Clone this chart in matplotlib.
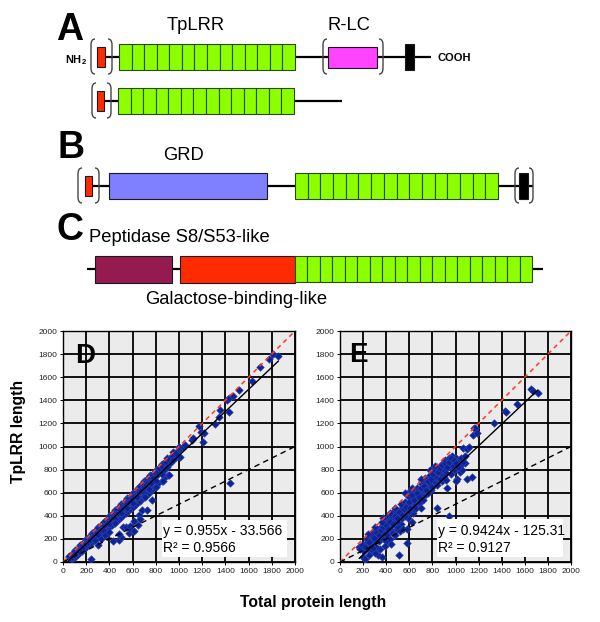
import matplotlib
matplotlib.use("Agg")
import matplotlib.pyplot as plt
from matplotlib.patches import Rectangle
from matplotlib.path import Path
from matplotlib.patches import PathPatch

plt.rcParams['font.family'] = ['Liberation Sans', 'DejaVu Sans']

# ---------------- data: domain diagrams (pixel layout of figure) ----------------
# each row: (name, y, line_start, line_end)
rows = [("A1", 57, 97, 431), ("A2", 101, 97, 342), ("B", 186, 85, 533), ("C", 269, 87, 543)]
# domains: (row, kind, x0, x1, n_cells)
domains = [
    ("A1", "sig", 97, 105, 1), ("A1", "lrr", 119, 295, 14), ("A1", "rlc", 328, 377, 1), ("A1", "tm", 405, 414, 1),
    ("A2", "sig", 97, 104, 1), ("A2", "lrr", 118, 294, 14),
    ("B", "sig", 85, 92, 1), ("B", "grd", 109, 267, 1), ("B", "lrr", 295, 498, 16), ("B", "tm", 519, 528, 1),
    ("C", "pep", 95, 172, 1), ("C", "gal", 180, 295, 1), ("C", "lrr", 295, 532, 19),
]
brackets = [("A1", 91, 112), ("A1", 323, 383), ("A2", 92, 111), ("B", 78, 99), ("B", 515, 533)]

# ---------------- data: scatter D ----------------
D_x = [50, 60, 70, 80, 90, 100, 110, 120, 130, 140, 150, 160, 170, 180, 190, 200, 210, 220, 230, 240,
       250, 260, 270, 280, 290, 300, 310, 320, 330, 340, 350, 360, 370, 380, 390, 400, 410, 420, 430, 440,
       450, 460, 470, 480, 490, 500, 510, 520, 530, 540, 550, 560, 570, 580, 590, 600, 610, 620, 630, 640,
       650, 660, 670, 680, 690, 700, 710, 720, 730, 740, 750, 760, 780, 800, 820, 840, 860, 880, 900, 930,
       960, 990,
       80, 100, 120, 140, 160, 180, 200, 220, 240, 260, 280, 300, 320, 340, 360, 380, 400, 420, 440, 460,
       480, 500, 520, 540, 560, 580, 600, 620, 640, 660, 680, 700, 720, 740, 760, 780, 800, 820, 850, 880,
       100, 150, 200, 250, 300, 350, 400, 450, 500, 550, 600, 650, 700, 750, 800, 850, 900, 950, 1000,
       130, 170, 210, 250, 290, 330, 370, 410, 450, 490, 530, 570, 610, 650, 690, 730, 770, 810, 870, 920, 970,
       55, 65, 75, 85, 95, 105, 115, 125, 135, 145, 155, 165, 175, 185, 195, 205, 215, 225, 235, 245,
       255, 265, 275, 285, 295, 305, 315, 325, 335, 345, 355, 365, 375, 385, 395, 405, 415, 425, 435, 445,
       455, 465, 475, 485, 495, 505, 515, 525, 535, 545, 555, 565, 575, 585, 595, 605, 615, 625, 635, 645,
       655, 665, 675, 685, 695, 705, 715, 725, 735, 745, 755, 765, 775, 790, 810, 830, 850, 870, 890, 910,
       940, 970, 1000,
       300, 350, 400, 450, 500, 550, 600, 650, 700, 750, 800, 850, 900, 640, 720, 760,
       244, 280, 300, 330, 360, 400, 431, 451, 486, 503, 485, 520, 546, 566, 575, 589, 609, 609, 644, 652,
       667, 681, 701, 704, 724, 744, 767, 802, 860, 905, 911, 950, 1011, 1437,
       1003, 1037, 1052, 1109, 1124, 1175, 1187, 1204, 1216, 1313, 1348, 1356, 1411, 1428, 1434, 1466, 1517,
       1629, 1698, 1778, 1813, 1856]
D_y = [45, 40, 55, 60, 70, 85, 90, 100, 115, 120, 135, 140, 150, 165, 170, 185, 190, 200, 215, 220,
       235, 240, 250, 265, 270, 285, 290, 300, 315, 320, 335, 340, 350, 365, 370, 385, 390, 400, 415, 420,
       435, 440, 450, 465, 470, 485, 490, 500, 515, 520, 535, 540, 550, 565, 570, 585, 590, 600, 615, 620,
       635, 640, 650, 665, 670, 685, 690, 700, 715, 720, 735, 740, 760, 780, 800, 820, 840, 850, 880, 900,
       930, 960,
       30, 45, 60, 80, 95, 110, 130, 145, 165, 180, 200, 215, 235, 250, 270, 285, 305, 320, 340, 355,
       375, 390, 410, 425, 445, 460, 480, 495, 515, 530, 550, 565, 585, 600, 620, 640, 655, 680, 700, 740,
       100, 150, 200, 250, 300, 345, 400, 450, 500, 550, 600, 645, 700, 750, 800, 850, 900, 950, 1000,
       100, 135, 170, 210, 250, 290, 325, 365, 400, 440, 480, 520, 555, 595, 635, 670, 710, 750, 800, 860, 910,
       50, 35, 45, 75, 60, 95, 80, 110, 95, 130, 115, 150, 130, 170, 155, 195, 175, 215, 190, 235,
       215, 255, 230, 275, 250, 295, 270, 315, 290, 335, 310, 355, 330, 375, 345, 395, 370, 415, 385, 435,
       410, 455, 425, 475, 450, 495, 465, 515, 490, 535, 505, 555, 530, 575, 545, 595, 570, 615, 585, 635,
       610, 655, 625, 675, 650, 695, 665, 715, 690, 735, 705, 755, 730, 775, 790, 815, 830, 855, 870, 895,
       920, 945, 980,
       230, 270, 330, 370, 420, 470, 510, 560, 600, 650, 700, 760, 820, 560, 640, 680,
       30, 190, 150, 200, 230, 260, 184, 335, 193, 219, 240, 300, 300, 248, 308, 277, 355, 265, 322, 407,
       371, 450, 573, 560, 452, 629, 538, 652, 700, 753, 754, 880, 906, 682,
       998, 993, 1013, 1056, 1071, 1177, 1128, 1042, 1114, 1192, 1253, 1316, 1403, 1417, 1302, 1440, 1489,
       1567, 1686, 1760, 1801, 1786]
D_fit = (0.955, -33.566)
D_eq = ["y = 0.955x - 33.566", "R\u00b2 = 0.9566"]

# ---------------- data: scatter E ----------------
E_x = [167, 170, 202, 219, 222, 230, 240, 250, 245, 210,
       265, 283, 303, 323, 332, 346, 341, 270, 290, 300, 310, 320, 330, 340, 280, 300, 350, 355, 260, 290,
       361, 370, 380, 390, 400, 410, 420, 430, 440, 450, 380, 400, 420, 440, 360, 390, 410, 430, 445, 370,
       460, 470, 480, 490, 500, 510, 520, 530, 540, 550, 460, 480, 500, 514, 520, 540, 530, 545, 470, 490,
       560, 570, 577, 580, 590, 600, 610, 620, 630, 640, 650, 560, 590, 600, 620, 630, 580, 600, 640, 615,
       660, 670, 680, 690, 700, 710, 720, 730, 740, 750, 660, 690, 710, 720, 740, 700, 680, 730, 745, 760,
       770, 780, 790, 800, 810, 820, 830, 837, 840, 850, 780, 800, 820, 840, 760,
       860, 870, 880, 890, 900, 910, 920, 929, 930, 944, 940, 950, 880, 900, 920, 870,
       960, 970, 980, 990, 1000, 1010, 1020, 1030, 1040, 1050, 1068, 1080, 1097, 1097, 1120, 1140, 960, 1000, 980, 1060,
       190, 215, 235, 255, 275, 295, 315, 335, 355, 375, 395, 415, 435, 455, 475, 495, 515, 535, 555, 575,
       595, 605, 625, 645, 665, 685, 705, 725, 745, 765, 785, 805, 825, 845, 865, 885, 905, 925, 945, 965,
       985, 1005, 1025, 1045, 1065, 1085, 560, 620, 700, 820, 430, 480, 360, 300, 240,
       1154, 1160, 1169, 1189, 1333, 1429, 1437, 1530, 1654, 1674, 1711]
E_y = [130, 112, 43, 26, 164, 150, 110, 60, 190, 95,
       222, 199, 178, 106, 63, 112, 178, 150, 260, 240, 130, 280, 200, 250, 100, 80, 230, 300, 180, 120,
       43, 330, 270, 350, 300, 380, 250, 360, 330, 390, 200, 180, 320, 280, 260, 140, 230, 200, 160, 380,
       420, 330, 380, 290, 440, 360, 400, 330, 470, 420, 250, 230, 300, 61, 270, 380, 500, 290, 440, 350,
       520, 450, 162, 500, 380, 560, 480, 530, 420, 610, 500, 400, 600, 440, 350, 570, 290, 510, 460, 620,
       560, 640, 510, 600, 680, 560, 620, 700, 580, 650, 470, 520, 700, 540, 730, 470, 590, 620, 690, 720,
       680, 750, 620, 720, 790, 690, 760, 465, 810, 720, 800, 650, 740, 670, 600,
       780, 830, 760, 860, 800, 880, 770, 638, 850, 398, 900, 820, 700, 740, 710, 720,
       880, 920, 860, 800, 900, 720, 850, 880, 780, 840, 984, 860, 716, 976, 999, 733, 760, 700, 830, 800,
       150, 130, 200, 170, 240, 210, 260, 230, 280, 300, 320, 290, 350, 330, 400, 380, 430, 410, 460, 480,
       520, 470, 580, 540, 600, 560, 640, 660, 620, 700, 720, 760, 800, 780, 810, 840, 860, 820, 870, 900,
       880, 860, 820, 900, 870, 920, 600, 640, 720, 830, 420, 470, 350, 300, 240,
       1100, 1157, 1157, 1114, 1201, 1305, 1299, 1368, 1498, 1483, 1466]
E_fit = (0.9424, -125.31)
E_eq = ["y = 0.9424x - 125.31", "R\u00b2 = 0.9127"]

ticks = [0, 200, 400, 600, 800, 1000, 1200, 1400, 1600, 1800, 2000]

# ---------------- figure ----------------
W, H = 600, 622
fig = plt.figure(figsize=(W / 100, H / 100), dpi=100)

# diagram layer (pixel coordinates)
dg = fig.add_axes([0, 0, 1, 1])
dg.set_xlim(0, W)
dg.set_ylim(H, 0)
dg.axis('off')

colors = {"sig": "#ff2a00", "lrr": "#8cff00", "rlc": "#ff44ff", "tm": "#000000",
          "grd": "#7f80ff", "pep": "#941a50", "gal": "#ff2a00"}
half = {"sig": 10, "lrr": 13, "rlc": 10.5, "tm": 13, "grd": 13, "pep": 13.5, "gal": 13.5}
row_y = {r[0]: r[1] for r in rows}

for name, y, x0, x1 in rows:
    dg.plot([x0, x1], [y, y], color='black', lw=1.6, solid_capstyle='butt', zorder=1)

for row, kind, x0, x1, n in domains:
    y = row_y[row]
    h = half[kind]
    w = (x1 - x0) / n
    for i in range(n):
        dg.add_patch(Rectangle((x0 + i * w, y - h), w, 2 * h, facecolor=colors[kind],
                               edgecolor='#1a1a1a' if kind != 'lrr' else '#2b4a00', lw=0.8, zorder=2))

def paren(x, ytop, ybot, left=True):
    d = 4 if left else -4
    verts = [(x + d, ytop), (x, ytop), (x, ytop + 6), (x, ybot - 6), (x, ybot), (x + d, ybot)]
    codes = [Path.MOVETO, Path.CURVE3, Path.CURVE3, Path.LINETO, Path.CURVE3, Path.CURVE3]
    dg.add_patch(PathPatch(Path(verts, codes), facecolor='none', edgecolor='#444444', lw=1.0, zorder=3))

for row, xl, xr in brackets:
    y = row_y[row]
    paren(xl, y - 18, y + 17, True)
    paren(xr, y - 18, y + 17, False)

big = dict(fontsize=27, fontweight='bold', color='black')
dg.text(56, 40, "A", ha='left', va='baseline', **big)
dg.text(57, 158, "B", ha='left', va='baseline', **big)
dg.text(56, 240, "C", ha='left', va='baseline', **big)
lab = dict(fontsize=13.2, color='black')
dg.text(196, 26, "TpLRR", ha='center', va='center', **lab)
dg.text(349, 26, "R-LC", ha='center', va='center', **lab)
dg.text(184, 155, "GRD", ha='center', va='center', **lab)
dg.text(89, 238, "Peptidase S8/S53-like", ha='left', va='center', **lab)
dg.text(145, 300, "Galactose-binding-like", ha='left', va='center', **lab)
dg.text(81, 60, "NH", ha='right', va='center', fontsize=8, fontweight='bold')
dg.text(81.5, 63, "2", ha='left', va='center', fontsize=5.5, fontweight='bold')
dg.text(438, 58, "COOH", ha='left', va='center', fontsize=8, fontweight='bold')

# scatter panels
def panel(rect, xs, ys, fit, eq, letter, box, letter_xy):
    ax = fig.add_axes(rect)
    ax.set_facecolor('#ebebeb')
    ax.set_xlim(0, 2000)
    ax.set_ylim(0, 2000)
    ax.set_xticks(ticks)
    ax.set_yticks(ticks)
    ax.grid(True, color='black', lw=1.3)
    ax.set_axisbelow(True)
    for s in ax.spines.values():
        s.set_color('black')
        s.set_linewidth(1.0)
    ax.tick_params(labelsize=6, labelcolor='#222222', length=2, width=0.7, pad=2)
    ax.scatter(xs, ys, marker='D', s=15, color='#0d2296', edgecolors='#3448b0', linewidths=0.4, zorder=3)
    ax.plot([0, 2000], [0, 2000], color='#ff3b1f', lw=1.1, ls=(0, (3, 2.5)), zorder=4)
    ax.plot([0, 2000], [0, 1000], color='black', lw=1.0, ls=(0, (4, 3)), zorder=4)
    x0, x1 = min(xs), max(xs)
    ax.plot([x0, x1], [fit[0] * x0 + fit[1], fit[0] * x1 + fit[1]], color='black', lw=1.0, zorder=4)
    bx0, bx1, by0, by1 = box
    ax.add_patch(Rectangle((bx0, by0), bx1 - bx0, by1 - by0, facecolor='white', edgecolor='none', zorder=5))
    ax.text(bx0 + 8, 268, eq[0], fontsize=10, ha='left', va='center', zorder=6)
    ax.text(bx0 + 8, 118, eq[1], fontsize=10, ha='left', va='center', zorder=6)
    ax.text(letter_xy[0], letter_xy[1], letter, fontsize=20, fontweight='bold', ha='left', va='baseline', zorder=6)
    return ax

axD = panel([63 / W, 1 - 562 / H, 232 / W, 231 / H], D_x, D_y, D_fit, D_eq, "D", (853, 1931, 43, 364), (105, 1725))
axE = panel([340 / W, 1 - 562 / H, 231 / W, 231 / H], E_x, E_y, E_fit, E_eq, "E", (840, 1931, 43, 372), (80, 1733))

fig.text(19 / W, 1 - 431 / H, "TpLRR length", rotation=90, ha='center', va='center', fontsize=11.3, fontweight='bold')
fig.text(313 / W, 1 - 602 / H, "Total protein length", ha='center', va='center', fontsize=11.3, fontweight='bold')

fig.savefig("out.png", dpi=100)
